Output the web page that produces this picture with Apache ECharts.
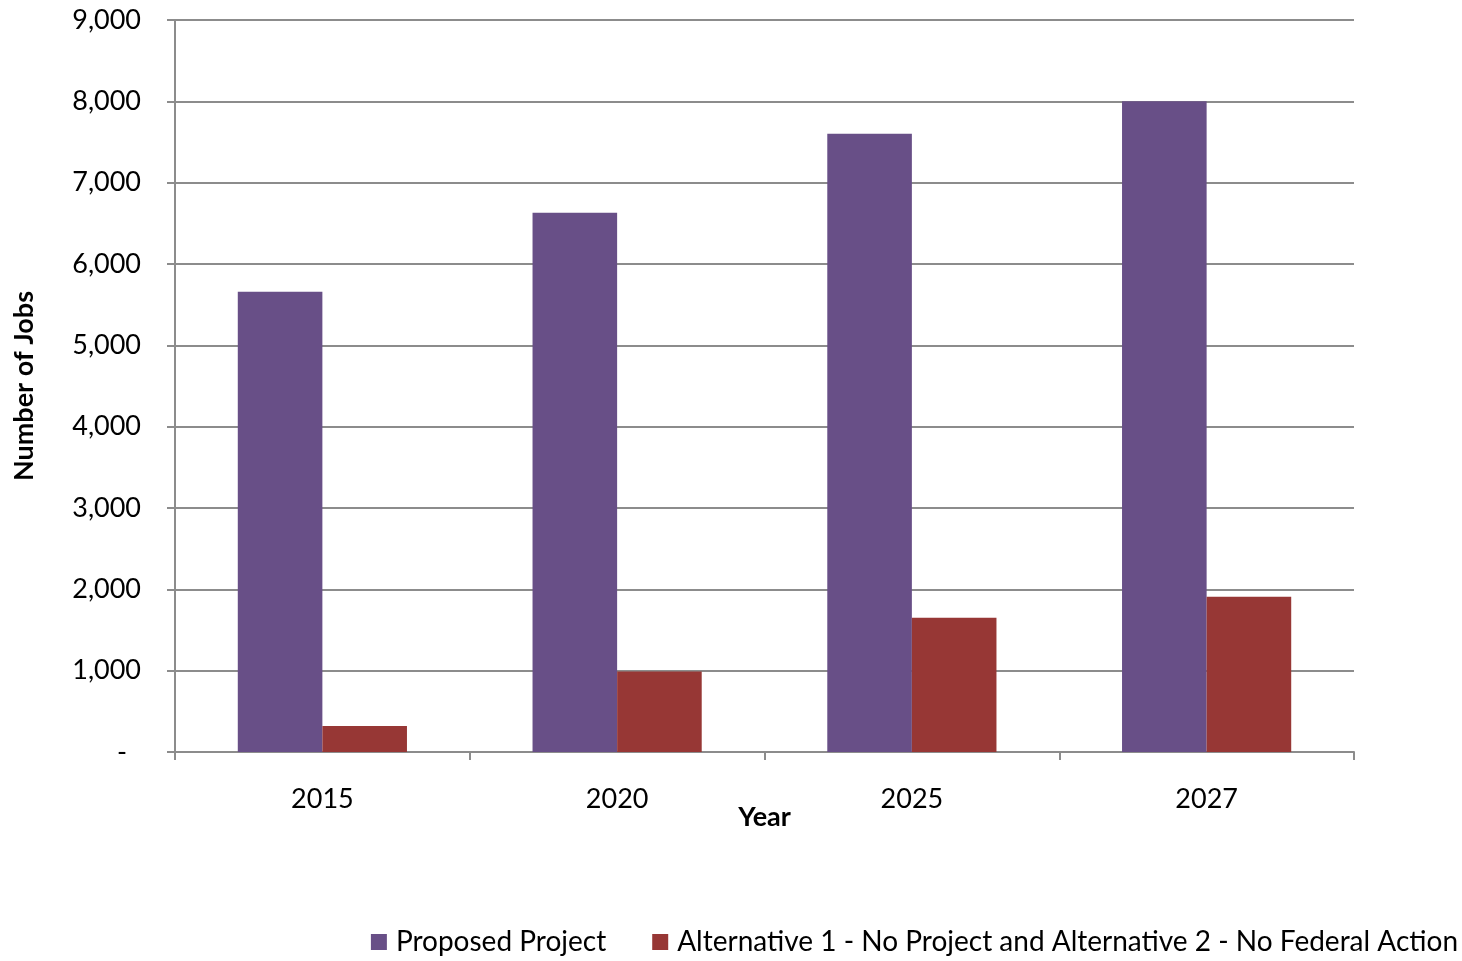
<!DOCTYPE html>
<html>
<head>
<meta charset="utf-8">
<script src="https://cdn.jsdelivr.net/npm/echarts@6/dist/echarts.min.js"></script>
<style>
  html, body { margin: 0; padding: 0; background: #fff; }
  #chart { width: 1462px; height: 961px; }
</style>
</head>
<body>
<div id="chart"></div>
<script>
// Employment projections by year
const years = ['2015', '2020', '2025', '2027'];
const proposedProject = [5660, 6630, 7600, 8000];
const noProjectAlternatives = [320, 990, 1650, 1910];
const seriesNames = ['Proposed Project', 'Alternative 1 - No Project and Alternative 2 - No Federal Action'];

const FONT = 'Lato, "Open Sans", sans-serif';
const GRID_GRAY = '#8c8c8c';

const chart = echarts.init(document.getElementById('chart'), null, { renderer: 'canvas' });

chart.setOption({
  animation: false,
  backgroundColor: '#ffffff',
  textStyle: { fontFamily: FONT, color: '#000' },
  grid: { left: 175, right: 108, top: 20, bottom: 209, containLabel: false },
  legend: {
    top: 928,
    right: 4,
    padding: 0,
    itemWidth: 16,
    itemHeight: 16,
    itemGap: 46,
    icon: 'rect',
    textStyle: { fontFamily: FONT, fontSize: 28, color: '#000', padding: [0, 0, 0, 4] },
    data: seriesNames
  },
  xAxis: {
    type: 'category',
    data: years,
    name: 'Year',
    nameLocation: 'middle',
    nameGap: 52,
    nameMoveOverlap: false,
    nameTextStyle: { fontFamily: FONT, fontSize: 27, fontWeight: 'bold', color: '#000' },
    axisLine: { lineStyle: { color: GRID_GRAY, width: 2 } },
    axisTick: { show: true, length: 8, lineStyle: { color: GRID_GRAY, width: 2 } },
    axisLabel: { fontFamily: FONT, fontSize: 27, color: '#000', margin: 34 }
  },
  yAxis: {
    type: 'value',
    min: 0,
    max: 9000,
    interval: 1000,
    name: 'Number of Jobs',
    nameLocation: 'middle',
    nameGap: 137,
    nameMoveOverlap: false,
    nameTextStyle: { fontFamily: FONT, fontSize: 27, fontWeight: 'bold', color: '#000' },
    axisLine: { show: true, lineStyle: { color: GRID_GRAY, width: 2 } },
    axisTick: { show: true, length: 8, lineStyle: { color: GRID_GRAY, width: 2 } },
    splitLine: { lineStyle: { color: GRID_GRAY, width: 2 } },
    axisLabel: {
      fontFamily: FONT,
      fontSize: 27,
      color: '#000',
      margin: 34,
      formatter: function (v) {
        return v === 0 ? '{dash|-}' : v.toLocaleString('en-US');
      },
      rich: { dash: { fontFamily: FONT, fontSize: 27, color: '#000', padding: [0, 14, 0, 0] } }
    }
  },
  series: [
    {
      name: seriesNames[0],
      type: 'bar',
      data: proposedProject,
      barGap: '0%',
      barCategoryGap: '42.6%',
      itemStyle: { color: '#684f87' }
    },
    {
      name: seriesNames[1],
      type: 'bar',
      data: noProjectAlternatives,
      barGap: '0%',
      barCategoryGap: '42.6%',
      itemStyle: { color: '#973735' }
    }
  ]
});
</script>
</body>
</html>
